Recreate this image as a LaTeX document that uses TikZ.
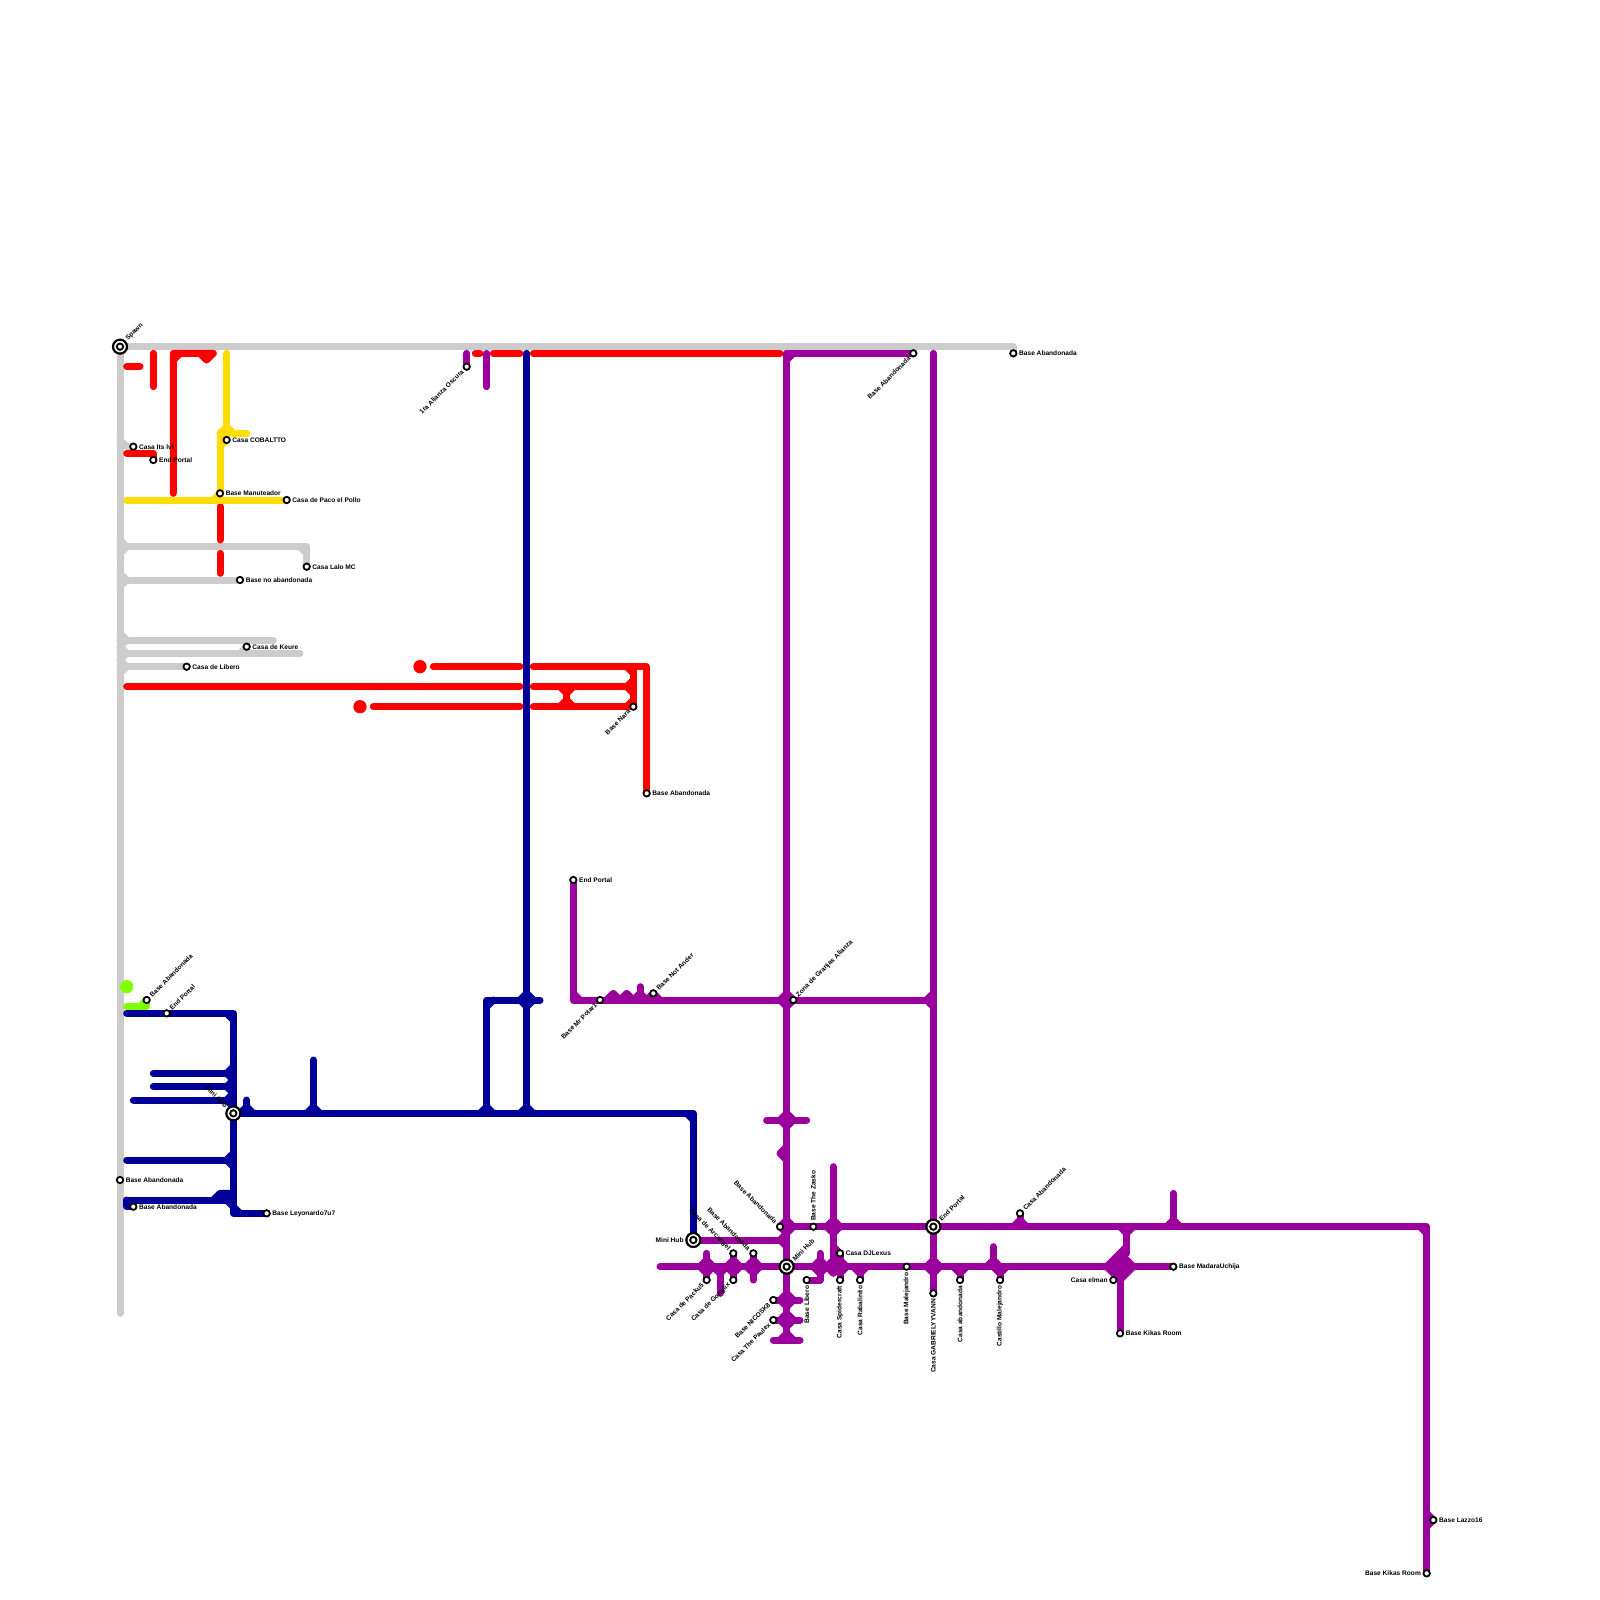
\documentclass[tikz,border=0pt]{standalone}
\usepackage{fontspec}
\setmainfont{Liberation Sans}
\usepackage{xcolor}
\usetikzlibrary{positioning}

\definecolor{linegray}{HTML}{CCCCCC}
\definecolor{linered}{HTML}{FF0000}
\definecolor{lineyellow}{HTML}{FFDD00}
\definecolor{lineblue}{HTML}{000099}
\definecolor{linegreen}{HTML}{80FF00}
\definecolor{linepurple}{HTML}{9C009C}

\tikzset{
  rail/.style={line width=7pt, line cap=round, line join=round},
  railgray/.style={rail, linegray},
  railred/.style={rail, linered},
  railyellow/.style={rail, lineyellow},
  railblue/.style={rail, lineblue},
  railgreen/.style={rail, linegreen},
  railpurple/.style={rail, linepurple},
  stn/.style={circle, draw=black, fill=white, line width=1.8pt, minimum size=6.4pt, inner sep=0pt},
  hubstn/.style={circle, draw=black, fill=white, line width=2.2pt, minimum size=14pt, inner sep=0pt,
    path picture={\fill[black] (path picture bounding box.center) circle (4.2pt);
                  \fill[white] (path picture bounding box.center) circle (2pt);}},
  lbl/.style={font=\fontsize{6.6}{7}\selectfont\bfseries, inner sep=1.5pt, text=black},
  lblE/.style={lbl, anchor=west},
  lblW/.style={lbl, anchor=east},
  lblNE/.style={lbl, rotate=45, anchor=west},
  lblSW/.style={lbl, rotate=45, anchor=east},
  lblNW/.style={lbl, rotate=-45, anchor=east},
  lblS/.style={lbl, rotate=90, anchor=east},
  lblN/.style={lbl, rotate=90, anchor=west}
}

% small flares where a branch meets a line
\newcommand{\capU}[2]{\draw[#1] (#2) ++(-1,0) -- ++(1,-1) -- ++(1,1);}
\newcommand{\capD}[2]{\draw[#1] (#2) ++(-1,0) -- ++(1,1) -- ++(1,-1);}
\newcommand{\capL}[2]{\draw[#1] (#2) ++(0,-1) -- ++(-1,1) -- ++(1,1);}
\newcommand{\capR}[2]{\draw[#1] (#2) ++(0,-1) -- ++(1,1) -- ++(-1,1);}

\begin{document}
\begin{tikzpicture}[x=6.6667pt, y=-6.6667pt]
  \useasboundingbox (0,0) rectangle (240,240);

  % stations
  \coordinate (spawn) at (18,52);
  \coordinate (itslvl) at (20,67);
  \coordinate (portalRed) at (23,69);
  \coordinate (cobaltto) at (34,66);
  \coordinate (manuteador) at (33,74);
  \coordinate (paco) at (43,75);
  \coordinate (lalo) at (46,85);
  \coordinate (noaband) at (36,87);
  \coordinate (keure) at (37,97);
  \coordinate (liberoG) at (28,100);
  \coordinate (oscura) at (70,55);
  \coordinate (abandTopP) at (137,53);
  \coordinate (abandTopG) at (152,53);
  \coordinate (nara) at (95,106);
  \coordinate (abandRed) at (97,119);
  \coordinate (portalP) at (86,132);
  \coordinate (polar) at (90,150);
  \coordinate (ander) at (98,149);
  \coordinate (granjas) at (119,150);
  \coordinate (abandGreen) at (22,150);
  \coordinate (portalB) at (25,152);
  \coordinate (hubB) at (35,167);
  \coordinate (abandG) at (18,177);
  \coordinate (abandB) at (20,181);
  \coordinate (leyonardo) at (40,182);
  \coordinate (hubW) at (104,186);
  \coordinate (abandA) at (117,184);
  \coordinate (zasko) at (122,184);
  \coordinate (arcangel) at (110,188);
  \coordinate (abandC) at (113,188);
  \coordinate (hubC) at (118,190);
  \coordinate (djlexus) at (126,188);
  \coordinate (packu) at (106,192);
  \coordinate (gonglix) at (110,192);
  \coordinate (liberoP) at (121,192);
  \coordinate (spider) at (126,192);
  \coordinate (rabalinito) at (129,192);
  \coordinate (nicosk) at (116,195);
  \coordinate (paulex) at (116,198);
  \coordinate (malejandro) at (136,190);
  \coordinate (gabriel) at (140,194);
  \coordinate (casaaband) at (144,192);
  \coordinate (castillo) at (150,192);
  \coordinate (hubE) at (140,184);
  \coordinate (abandE) at (153,182);
  \coordinate (elman) at (167,192);
  \coordinate (kikasA) at (168,200);
  \coordinate (madara) at (176,190);
  \coordinate (lazzo) at (215,228);
  \coordinate (kikasB) at (214,236);

  % gray
  \coordinate (grayEnd) at (18,197);
  \coordinate (grayTop) at (152,52);
  \coordinate (grayA) at (18,66);
  \coordinate (grayB) at (19,67);
  \coordinate (grayC) at (18,82);
  \coordinate (grayD) at (46,82);
  \coordinate (grayE) at (18,87);
  \coordinate (grayF) at (18,96);
  \coordinate (grayG) at (41,96);
  \coordinate (grayH) at (18,98);
  \coordinate (grayI) at (45,98);
  \coordinate (grayJ) at (36,98);
  \coordinate (grayK) at (18,100);
  \draw[railgray] (spawn) -- (grayEnd);
  \draw[railgray] (spawn) -- (grayTop) -- (abandTopG);
  \draw[railgray] (grayA) -- (grayB) -- (itslvl);
  \draw[railgray] (grayC) -- (grayD) -- (lalo);
  \draw[railgray] (grayD) ++(-1,0) -- ++(1,1);
  \capR{railgray}{grayC}
  \draw[railgray] (grayE) -- (noaband);
  \capR{railgray}{grayE}
  \draw[railgray] (grayF) -- (grayG);
  \capR{railgray}{grayF}
  \draw[railgray] (grayH) -- (grayI);
  \capR{railgray}{grayH}
  \draw[railgray] (grayJ) -- (keure);
  \draw[railgray] (grayK) -- (liberoG);
  \capR{railgray}{grayK}

  % red
  \coordinate (redA1) at (19,55);
  \coordinate (redA2) at (21,55);
  \coordinate (redB1) at (23,53);
  \coordinate (redB2) at (23,58);
  \coordinate (redC1) at (26,74);
  \coordinate (redC2) at (26,53);
  \coordinate (redC3) at (32,53);
  \coordinate (redC4) at (31,54);
  \coordinate (redC5) at (30,53);
  \coordinate (redD1) at (19,68);
  \coordinate (redD2) at (23,68);
  \coordinate (redE1) at (33,76);
  \coordinate (redE2) at (33,81);
  \coordinate (redF1) at (33,83);
  \coordinate (redF2) at (33,86);
  \coordinate (redG1) at (71.3,53);
  \coordinate (redG2) at (72,53);
  \coordinate (redH1) at (74,53);
  \coordinate (redH2) at (78,53);
  \coordinate (redI1) at (80,53);
  \coordinate (redI2) at (117,53);
  \coordinate (redJ1) at (65,100);
  \coordinate (redJ2) at (78,100);
  \coordinate (redJ3) at (80,100);
  \coordinate (redJ4) at (97,100);
  \coordinate (redJ5) at (95,100);
  \coordinate (redK1) at (19,103);
  \coordinate (redK2) at (78,103);
  \coordinate (redK3) at (80,103);
  \coordinate (redK4) at (95,103);
  \coordinate (redL1) at (56,106);
  \coordinate (redL2) at (78,106);
  \coordinate (redL3) at (80,106);
  \coordinate (redX1) at (85,103);
  \coordinate (redX2) at (85,106);
  \draw[railred] (redA1) -- (redA2);
  \draw[railred] (redB1) -- (redB2);
  \draw[railred] (redC1) -- (redC2) -- (redC3) -- (redC4) -- (redC5);
  \draw[railred] (redC2) ++(0,1) -- ++(1,-1);
  \draw[railred] (redD1) -- (redD2) -- (portalRed);
  \draw[railred] (redE1) -- (redE2);
  \draw[railred] (redF1) -- (redF2);
  \draw[railred] (redG1) -- (redG2);
  \draw[railred] (redH1) -- (redH2);
  \draw[railred] (redI1) -- (redI2);
  \fill[linered] (63,100) circle (1) node (dotA) {};
  \fill[linered] (54,106) circle (1) node (dotB) {};
  \draw[railred] (redJ1) -- (redJ2);
  \draw[railred] (redJ3) -- (redJ4) -- (abandRed);
  \draw[railred] (redJ5) -- (nara);
  \draw[railred] (redJ5) ++(-1,0) -- ++(1,1);
  \draw[railred] (redK1) -- (redK2);
  \draw[railred] (redK3) -- (redK4);
  \capL{railred}{redK4}
  \draw[railred] (redL1) -- (redL2);
  \draw[railred] (redL3) -- (nara);
  \draw[railred] (nara) ++(-1,0) -- ++(1,-1);
  \draw[railred] (redX1) -- (redX2);
  \capD{railred}{redX1}
  \capU{railred}{redX2}

  % yellow
  \coordinate (yelA) at (34,53);
  \coordinate (yelB) at (33,65);
  \coordinate (yelC) at (37,65);
  \coordinate (yelD) at (19,75);
  \coordinate (yelE) at (34,64);
  \draw[railyellow] (yelA) -- (cobaltto);
  \draw[railyellow] (yelE) -- (yelB);
  \draw[railyellow] (yelE) ++(1,1) -- (yelC);
  \draw[railyellow] (yelE) -- ++(1,1);
  \draw[railyellow] (yelB) -- (manuteador);
  \draw[railyellow] (cobaltto) -- ++(-1,1);
  \draw[railyellow] (yelD) -- (paco);
  \draw[railyellow] (manuteador) -- ++(-1,1);

  % green
  \coordinate (greA) at (19,151);
  \coordinate (greB) at (22,151);
  \fill[linegreen] (19,148) circle (1) node (dotC) {};
  \draw[railgreen] (greA) -- (greB) -- (abandGreen);
  \draw[railgreen] (abandGreen) -- ++(-1,1);

  % blue
  \coordinate (bluA1) at (19,152);
  \coordinate (bluA2) at (35,152);
  \coordinate (bluA3) at (35,182);
  \coordinate (bluB1) at (23,161);
  \coordinate (bluB2) at (35,161);
  \coordinate (bluC1) at (23,163);
  \coordinate (bluC2) at (35,163);
  \coordinate (bluD1) at (20,165);
  \coordinate (bluD2) at (35,165);
  \coordinate (bluE1) at (19,174);
  \coordinate (bluE2) at (35,174);
  \coordinate (bluF1) at (19,180);
  \coordinate (bluF2) at (35,180);
  \coordinate (bluF3) at (19,181);
  \coordinate (bluG) at (104,167);
  \coordinate (bluH) at (37,165);
  \coordinate (bluH2) at (37,167);
  \coordinate (bluI) at (47,159);
  \coordinate (bluI2) at (47,167);
  \coordinate (bluJ1) at (79,53);
  \coordinate (bluJ2) at (79,167);
  \coordinate (bluK1) at (73,167);
  \coordinate (bluK2) at (73,150);
  \coordinate (bluK3) at (81,150);
  \coordinate (bluK4) at (79,150);
  \draw[railblue] (bluA1) -- (bluA2) -- (bluA3) -- (leyonardo);
  \draw[railblue] (bluA2) ++(-1,0) -- ++(1,1);
  \draw[railblue] (bluA3) ++(0,-1) -- ++(1,1);
  \draw[railblue] (bluB1) -- (bluB2);
  \capL{railblue}{bluB2}
  \draw[railblue] (bluC1) -- (bluC2);
  \capL{railblue}{bluC2}
  \draw[railblue] (bluD1) -- (bluD2);
  \capL{railblue}{bluD2}
  \draw[railblue] (bluE1) -- (bluE2);
  \capL{railblue}{bluE2}
  \draw[railblue] (bluF1) -- (bluF2);
  \draw[railblue] (bluF1) -- (bluF3) -- (abandB);
  \capL{railblue}{bluF2}
  \draw[railblue, fill=lineblue] (bluF2) ++(-3,0) -- ++(1,-1) -- ++(2,0) -- ++(0,1) -- cycle;
  \draw[railblue] (hubB) -- (bluG) -- (hubW);
  \draw[railblue] (bluG) ++(-1,0) -- ++(1,1);
  \draw[railblue] (bluH) -- (bluH2);
  \capU{railblue}{bluH2}
  \draw[railblue] (bluI) -- (bluI2);
  \capU{railblue}{bluI2}
  \draw[railblue] (bluJ1) -- (bluJ2);
  \capU{railblue}{bluJ2}
  \draw[railblue] (bluK1) -- (bluK2) -- (bluK3);
  \capU{railblue}{bluK1}
  \draw[railblue] (bluK2) ++(1,0) -- ++(-1,1);
  \capU{railblue}{bluK4}
  \capD{railblue}{bluK4}

  % purple
  \coordinate (purA1) at (70,53);
  \coordinate (purB1) at (73,53);
  \coordinate (purB2) at (73,58);
  \coordinate (purC1) at (118,53);
  \coordinate (purC2) at (118,200);
  \coordinate (purD1) at (86,150);
  \coordinate (purD2) at (140,150);
  \coordinate (purE1) at (140,53);
  \coordinate (purF1) at (118,184);
  \coordinate (purF2) at (214,184);
  \coordinate (purG) at (99,190);
  \coordinate (purH1) at (118,186);
  \coordinate (purI1) at (115,168);
  \coordinate (purI2) at (121,168);
  \coordinate (purI3) at (118,168);
  \coordinate (purJ) at (118,173);
  \coordinate (purK) at (92,150);
  \coordinate (purL) at (94,150);
  \coordinate (purM1) at (96,148);
  \coordinate (purM2) at (96,150);
  \coordinate (purN) at (98,150);
  \coordinate (purO) at (118,150);
  \coordinate (purP1) at (106,188);
  \coordinate (purP2) at (106,190);
  \coordinate (purQ1) at (108,190);
  \coordinate (purQ2) at (108,194);
  \coordinate (purR) at (110,190);
  \coordinate (purS1) at (113,190);
  \coordinate (purS2) at (113,192);
  \coordinate (purT1) at (123,188);
  \coordinate (purT2) at (123,190);
  \coordinate (purT3) at (123,192);
  \coordinate (purU1) at (120,195);
  \coordinate (purU2) at (120,198);
  \coordinate (purU3) at (116,201);
  \coordinate (purU4) at (120,201);
  \coordinate (purU5) at (118,201);
  \coordinate (purU6) at (118,195);
  \coordinate (purU7) at (118,198);
  \coordinate (purV1) at (125,175);
  \coordinate (purV2) at (125,190);
  \coordinate (purV3) at (125,184);
  \coordinate (purV4) at (126,190);
  \coordinate (purW) at (129,190);
  \coordinate (purX) at (140,190);
  \coordinate (purY) at (144,190);
  \coordinate (purZ1) at (149,187);
  \coordinate (purZ2) at (149,190);
  \coordinate (purZ3) at (150,190);
  \coordinate (purAa) at (153,184);
  \coordinate (purAb1) at (176,179);
  \coordinate (purAb2) at (176,184);
  \coordinate (purAc1) at (169,184);
  \coordinate (purAc2) at (169,188);
  \coordinate (purAd) at (168,190);
  \coordinate (purAe) at (214,228);
  \draw[railpurple] (purA1) -- (oscura);
  \draw[railpurple] (purB1) -- (purB2);
  \draw[railpurple] (purC1) -- (purC2);
  \draw[railpurple] (purC1) -- (abandTopP);
  \draw[railpurple] (purC1) ++(0,1) -- ++(1,-1);
  \draw[railpurple] (portalP) -- (purD1) -- (purD2);
  \draw[railpurple] (purD1) ++(0,-1) -- ++(1,1);
  \draw[railpurple] (purE1) -- (gabriel);
  \capL{railpurple}{purD2}
  \draw[railpurple] (purF1) -- (purF2) -- (kikasB);
  \draw[railpurple] (purF2) ++(-1,0) -- ++(1,1);
  \draw[railpurple] (purG) -- (madara);
  \draw[railpurple] (hubW) -- (purH1);
  \capL{railpurple}{purH1}
  \draw[railpurple] (purI1) -- (purI2);
  \capU{railpurple}{purI3}
  \capD{railpurple}{purI3}
  \capL{railpurple}{purJ}
  \capU{railpurple}{purK}
  \capU{railpurple}{purL}
  \draw[railpurple] (purM1) -- (purM2);
  \capU{railpurple}{purM2}
  \capU{railpurple}{purN}
  \capU{railpurple}{purO}
  \capD{railpurple}{purO}
  \capU{railpurple}{purF1}
  \capD{railpurple}{purF1}
  \draw[railpurple] (purP1) -- (packu);
  \capU{railpurple}{purP2}
  \capD{railpurple}{purP2}
  \draw[railpurple] (purQ1) -- (purQ2);
  \capD{railpurple}{purQ1}
  \draw[railpurple] (arcangel) -- (gonglix);
  \capU{railpurple}{purR}
  \capD{railpurple}{purR}
  \draw[railpurple] (abandC) -- (purS2);
  \capU{railpurple}{purS1}
  \capD{railpurple}{purS1}
  \draw[railpurple] (purT1) -- (purT3) -- (liberoP);
  \capU{railpurple}{purT2}
  \capD{railpurple}{purT2}
  \draw[railpurple] (nicosk) -- (purU1);
  \draw[railpurple] (paulex) -- (purU2);
  \draw[railpurple] (purU3) -- (purU4);
  \capU{railpurple}{purU6}
  \capD{railpurple}{purU6}
  \capU{railpurple}{purU7}
  \capD{railpurple}{purU7}
  \capU{railpurple}{purU5}
  \draw[railpurple] (purV1) -- (purV2);
  \capU{railpurple}{purV3}
  \capD{railpurple}{purV3}
  \capU{railpurple}{purV2}
  \capD{railpurple}{purV2}
  \capU{railpurple}{purV4}
  \capD{railpurple}{purV4}
  \draw[railpurple] (djlexus) -- (spider);
  \draw[railpurple] (djlexus) -- ++(-1,-1);
  \capD{railpurple}{purW}
  \draw[railpurple] (purW) -- (rabalinito);
  \capU{railpurple}{purX}
  \capD{railpurple}{purX}
  \capD{railpurple}{purY}
  \draw[railpurple] (purY) -- (casaaband);
  \draw[railpurple] (purZ1) -- (purZ2);
  \capU{railpurple}{purZ2}
  \capD{railpurple}{purZ3}
  \draw[railpurple] (purZ3) -- (castillo);
  \draw[railpurple] (abandE) -- (purAa);
  \capU{railpurple}{purAa}
  \draw[railpurple] (purAb1) -- (purAb2);
  \capU{railpurple}{purAb2}
  % the wide knot on the lower line
  \draw[railpurple] (purAc1) -- (purAc2);
  \capD{railpurple}{purAc1}
  \draw[railpurple] (purAd) -- (kikasA);
  \draw[railpurple, fill=linepurple] (purAd) ++(-2,0) -- ++(2,-2) -- ++(2,2) -- ++(-2,2) -- cycle;
  \draw[railpurple] (purAd) ++(0,-2) -- ++(1,-1);
  \capR{railpurple}{purAe}

  % station markers
  \node[hubstn] (nSpawn) at (spawn) {};
  \node[stn] (nItslvl) at (itslvl) {};
  \node[stn] (nPortalRed) at (portalRed) {};
  \node[stn] (nCobaltto) at (cobaltto) {};
  \node[stn] (nManuteador) at (manuteador) {};
  \node[stn] (nPaco) at (paco) {};
  \node[stn] (nLalo) at (lalo) {};
  \node[stn] (nNoaband) at (noaband) {};
  \node[stn] (nKeure) at (keure) {};
  \node[stn] (nLiberoG) at (liberoG) {};
  \node[stn] (nOscura) at (oscura) {};
  \node[stn] (nAbandTopP) at (abandTopP) {};
  \node[stn] (nAbandTopG) at (abandTopG) {};
  \node[stn] (nNara) at (nara) {};
  \node[stn] (nAbandRed) at (abandRed) {};
  \node[stn] (nPortalP) at (portalP) {};
  \node[stn] (nPolar) at (polar) {};
  \node[stn] (nAnder) at (ander) {};
  \node[stn] (nGranjas) at (granjas) {};
  \node[stn] (nAbandGreen) at (abandGreen) {};
  \node[stn] (nPortalB) at (portalB) {};
  \node[hubstn] (nHubB) at (hubB) {};
  \node[stn] (nAbandG) at (abandG) {};
  \node[stn] (nAbandB) at (abandB) {};
  \node[stn] (nLeyonardo) at (leyonardo) {};
  \node[hubstn] (nHubW) at (hubW) {};
  \node[stn] (nAbandA) at (abandA) {};
  \node[stn] (nZasko) at (zasko) {};
  \node[stn] (nArcangel) at (arcangel) {};
  \node[stn] (nAbandC) at (abandC) {};
  \node[hubstn] (nHubC) at (hubC) {};
  \node[stn] (nDjlexus) at (djlexus) {};
  \node[stn] (nPacku) at (packu) {};
  \node[stn] (nGonglix) at (gonglix) {};
  \node[stn] (nLiberoP) at (liberoP) {};
  \node[stn] (nSpider) at (spider) {};
  \node[stn] (nRabalinito) at (rabalinito) {};
  \node[stn] (nNicosk) at (nicosk) {};
  \node[stn] (nPaulex) at (paulex) {};
  \node[stn] (nMalejandro) at (malejandro) {};
  \node[stn] (nGabriel) at (gabriel) {};
  \node[stn] (nCasaaband) at (casaaband) {};
  \node[stn] (nCastillo) at (castillo) {};
  \node[hubstn] (nHubE) at (hubE) {};
  \node[stn] (nAbandE) at (abandE) {};
  \node[stn] (nElman) at (elman) {};
  \node[stn] (nKikasA) at (kikasA) {};
  \node[stn] (nMadara) at (madara) {};
  \node[stn] (nLazzo) at (lazzo) {};
  \node[stn] (nKikasB) at (kikasB) {};

  % labels
  \node[lblNE] (tSpawn) at (nSpawn.45) {Spawn};
  \node[lblE] (tItslvl) at (nItslvl.east) {Casa Its lvl};
  \node[lblE] (tPortalRed) at (nPortalRed.east) {End Portal};
  \node[lblE] (tCobaltto) at (nCobaltto.east) {Casa COBALTTO};
  \node[lblE] (tManuteador) at (nManuteador.east) {Base Manuteador};
  \node[lblE] (tPaco) at (nPaco.east) {Casa de Paco el Pollo};
  \node[lblE] (tLalo) at (nLalo.east) {Casa Lalo MC};
  \node[lblE] (tNoaband) at (nNoaband.east) {Base no abandonada};
  \node[lblE] (tKeure) at (nKeure.east) {Casa de Keure};
  \node[lblE] (tLiberoG) at (nLiberoG.east) {Casa de Libero};
  \node[lblSW] (tOscura) at (nOscura.225) {1ra Alianza Oscura};
  \node[lblSW] (tAbandTopP) at (nAbandTopP.225) {Base Abandonada};
  \node[lblE] (tAbandTopG) at (nAbandTopG.east) {Base Abandonada};
  \node[lblSW] (tNara) at (nNara.225) {Base Nara};
  \node[lblE] (tAbandRed) at (nAbandRed.east) {Base Abandonada};
  \node[lblE] (tPortalP) at (nPortalP.east) {End Portal};
  \node[lblSW] (tPolar) at (nPolar.225) {Base Mr Polar1};
  \node[lblNE] (tAnder) at (nAnder.45) {Base Not Ander};
  \node[lblNE] (tGranjas) at (nGranjas.45) {Zona de Granjas Alianza};
  \node[lblNE] (tAbandGreen) at (nAbandGreen.45) {Base Abandonada};
  \node[lblNE] (tPortalB) at (nPortalB.45) {End Portal};
  \node[lblNW] (tHubB) at (nHubB.135) {Mini Hub};
  \node[lblE] (tAbandG) at (nAbandG.east) {Base Abandonada};
  \node[lblE] (tAbandB) at (nAbandB.east) {Base Abandonada};
  \node[lblE] (tLeyonardo) at (nLeyonardo.east) {Base Leyonardo7u7};
  \node[lblW] (tHubW) at (nHubW.west) {Mini Hub};
  \node[lblNW] (tAbandA) at (nAbandA.135) {Base Abandonada};
  \node[lblN] (tZasko) at (nZasko.north) {Base The Zasko};
  \node[lblNW] (tArcangel) at (nArcangel.135) {Casa de Arcangel};
  \node[lblNW] (tAbandC) at (nAbandC.135) {Base Abandonada};
  \node[lblNE] (tHubC) at (nHubC.45) {Mini Hub};
  \node[lblE] (tDjlexus) at (nDjlexus.east) {Casa DJLexus};
  \node[lblSW] (tPacku) at (nPacku.225) {Casa de Packu5};
  \node[lblSW] (tGonglix) at (nGonglix.225) {Casa de Gonglix};
  \node[lblS] (tLiberoP) at (nLiberoP.south) {Base Libero};
  \node[lblS] (tSpider) at (nSpider.south) {Casa Spidercraft};
  \node[lblS] (tRabalinito) at (nRabalinito.south) {Casa Rabalinito};
  \node[lblSW] (tNicosk) at (nNicosk.225) {Base NICOSK8};
  \node[lblSW] (tPaulex) at (nPaulex.225) {Casa The Paulex};
  \node[lblS] (tMalejandro) at (nMalejandro.south) {Base Malejandro};
  \node[lblS] (tGabriel) at (nGabriel.south) {Casa GABRIELYYVANN};
  \node[lblS] (tCasaaband) at (nCasaaband.south) {Casa abandonada};
  \node[lblS] (tCastillo) at (nCastillo.south) {Castillo Malejandro};
  \node[lblNE] (tHubE) at (nHubE.45) {End Portal};
  \node[lblNE] (tAbandE) at (nAbandE.45) {Casa Abandonada};
  \node[lblW] (tElman) at (nElman.west) {Casa elman};
  \node[lblE] (tKikasA) at (nKikasA.east) {Base Kikas Room};
  \node[lblE] (tMadara) at (nMadara.east) {Base MadaraUchija};
  \node[lblE] (tLazzo) at (nLazzo.east) {Base Lazzo16};
  \node[lblW] (tKikasB) at (nKikasB.west) {Base Kikas Room};
\end{tikzpicture}
\end{document}
